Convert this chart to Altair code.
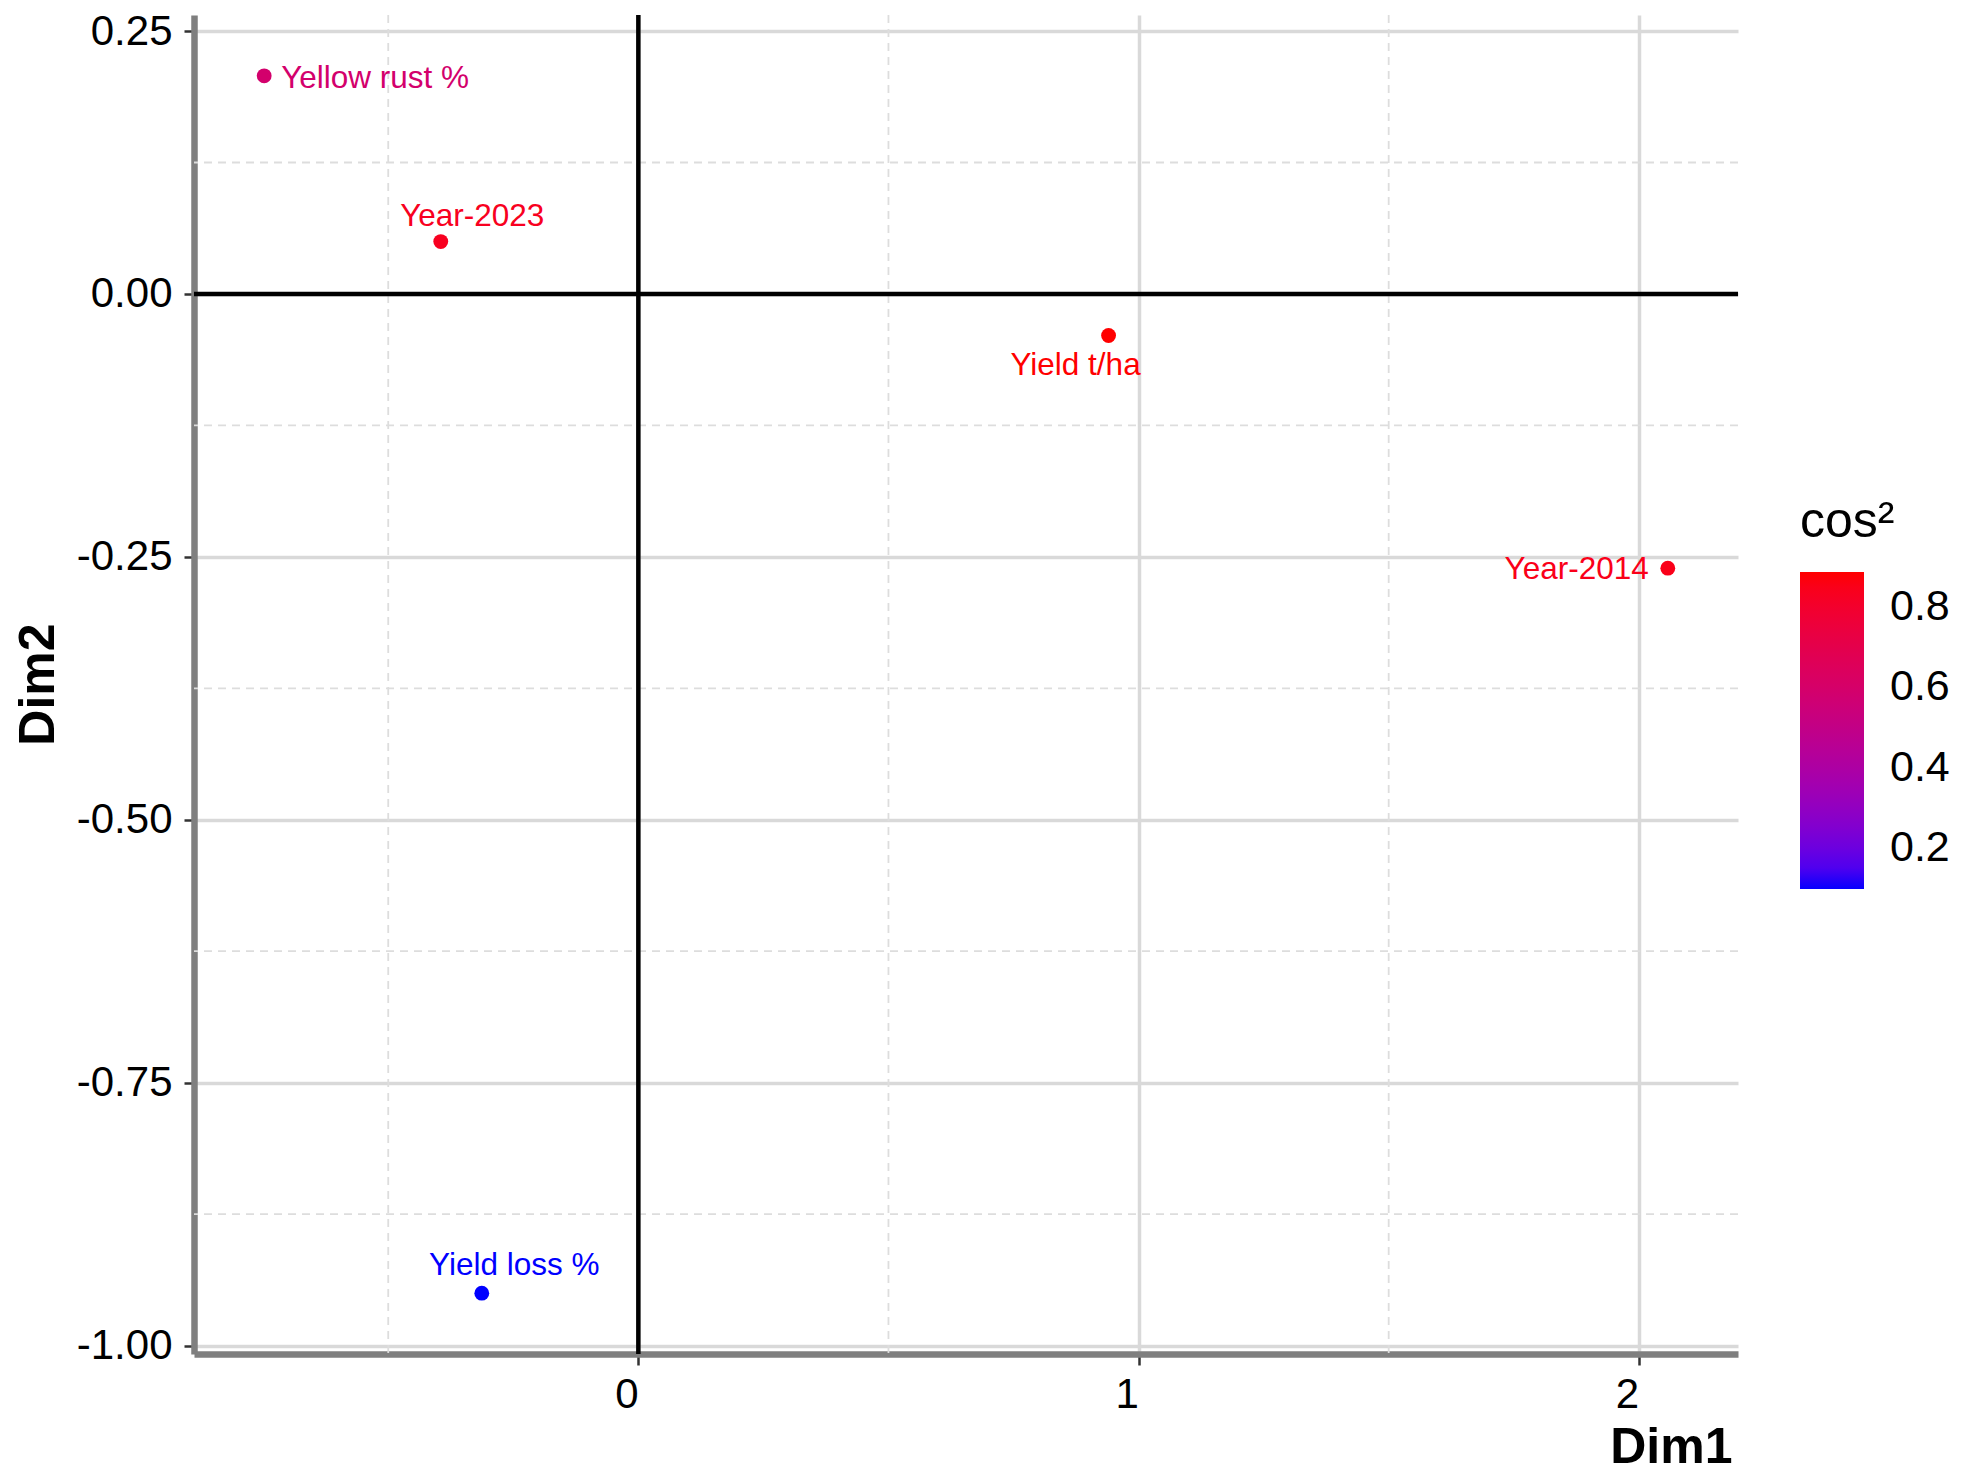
import altair as alt
import pandas as pd

# ---- data ----
names = ["Yellow rust %", "Year-2023", "Yield t/ha", "Year-2014", "Yield loss %"]
dim1 = [-0.748, -0.395, 0.940, 2.058, -0.313]
dim2 = [0.2074, 0.0498, -0.0395, -0.2608, -0.9502]
cos2 = [0.590, 0.835, 0.887, 0.850, 0.098]

x_ticks = [0, 1, 2]
y_ticks = [0.25, 0.0, -0.25, -0.5, -0.75, -1.0]
x_minor = [-0.5, 0.5, 1.5]
y_minor = [0.125, -0.125, -0.375, -0.625, -0.875]
legend_ticks = [0.2, 0.4, 0.6, 0.8]

df = pd.DataFrame({"name": names, "Dim1": dim1, "Dim2": dim2, "cos2": cos2})


def expand(vals, frac=0.05):
    lo, hi = min(vals), max(vals)
    r = hi - lo
    return [lo - frac * r, hi + frac * r]


FONT = "Liberation Sans"
xscale = alt.Scale(domain=expand(dim1), nice=False, zero=False)
yscale = alt.Scale(domain=expand(dim2), nice=False, zero=False)
cscale = alt.Scale(domain=[min(cos2), max(cos2)], range=["blue", "red"], interpolate="lab")

xaxis = alt.Axis(
    values=x_ticks, format="d", labelFontSize=42, labelFont=FONT, labelColor="black",
    labelPadding=9, labelOffset=-12, tickSize=11, tickColor="#333333", tickWidth=2.5,
    domainColor="#7F7F7F", domainWidth=6.5, gridColor="#D9D9D9", gridWidth=3.5,
    title="Dim1", titleFont=FONT, titleFontSize=50, titleFontWeight="bold", titleColor="black",
    titleX=1538, titleY=108, titleAlign="right", titleBaseline="alphabetic",
)
yaxis = alt.Axis(
    values=y_ticks, labelExpr="replace(format(datum.value, '.2f'), '\u2212', '-')",
    labelFontSize=42, labelFont=FONT, labelColor="black", labelPadding=12,
    tickSize=10, tickColor="#333333", tickWidth=2.5,
    domainColor="#7F7F7F", domainWidth=6.5, gridColor="#D9D9D9", gridWidth=3.5,
    title="Dim2", titleFont=FONT, titleFontSize=50, titleFontWeight="bold", titleColor="black",
    titleX=-141, titleY=669, titleAlign="center", titleBaseline="alphabetic", titleAngle=270,
)

legend = alt.Legend(
    title="cos\u00b2", orient="none", legendX=1606, legendY=482, direction="vertical",
    gradientLength=317, gradientThickness=64, gradientStrokeWidth=0,
    values=legend_ticks, labelFontSize=43, labelFont=FONT, labelColor="black", labelOffset=26,
    titleFontSize=50, titleFont=FONT, titleFontWeight="normal", titleColor="black",
    titlePadding=25, padding=0,
)
color = alt.Color("cos2:Q", scale=cscale, legend=legend)

# minor dashed grid
minor_x = alt.Chart(pd.DataFrame({"v": x_minor})).mark_rule(
    color="#DDDDDD", strokeWidth=1.8, strokeDash=[8, 6]
).encode(x=alt.X("v:Q", scale=xscale, axis=xaxis))
minor_y = alt.Chart(pd.DataFrame({"v": y_minor})).mark_rule(
    color="#DDDDDD", strokeWidth=1.8, strokeDash=[8, 6]
).encode(y=alt.Y("v:Q", scale=yscale, axis=yaxis))

# zero reference lines
zero_x = alt.Chart(pd.DataFrame({"v": [0]})).mark_rule(color="black", strokeWidth=4.5).encode(
    x=alt.X("v:Q", scale=xscale, axis=xaxis))
zero_y = alt.Chart(pd.DataFrame({"v": [0]})).mark_rule(color="black", strokeWidth=4.5).encode(
    y=alt.Y("v:Q", scale=yscale, axis=yaxis))

base = alt.Chart(df).encode(
    x=alt.X("Dim1:Q", scale=xscale, axis=xaxis),
    y=alt.Y("Dim2:Q", scale=yscale, axis=yaxis),
    color=color,
)
points = base.mark_circle(size=220, opacity=1)

label_style = {
    "Yellow rust %": dict(align="left", dx=17, dy=12),
    "Year-2023": dict(align="center", dx=31.5, dy=-16),
    "Yield t/ha": dict(align="center", dx=-33, dy=40),
    "Year-2014": dict(align="right", dx=-19, dy=11),
    "Yield loss %": dict(align="center", dx=32.5, dy=-18),
}
texts = []
for n in names:
    st = label_style[n]
    texts.append(
        base.transform_filter(alt.datum.name == n)
        .mark_text(font=FONT, fontSize=31.5, baseline="alphabetic", **st)
        .encode(text="name:N")
    )

chart = alt.layer(minor_x, minor_y, zero_x, zero_y, points, *texts).properties(
    width=1544, height=1339,
    autosize=alt.AutoSizeParams(type="none"),
    padding={"left": 186, "top": 7, "right": 218, "bottom": 121},
    background="white",
).configure_view(stroke=None)

chart.save("out.html", embed_options={"renderer": "svg", "actions": False})
